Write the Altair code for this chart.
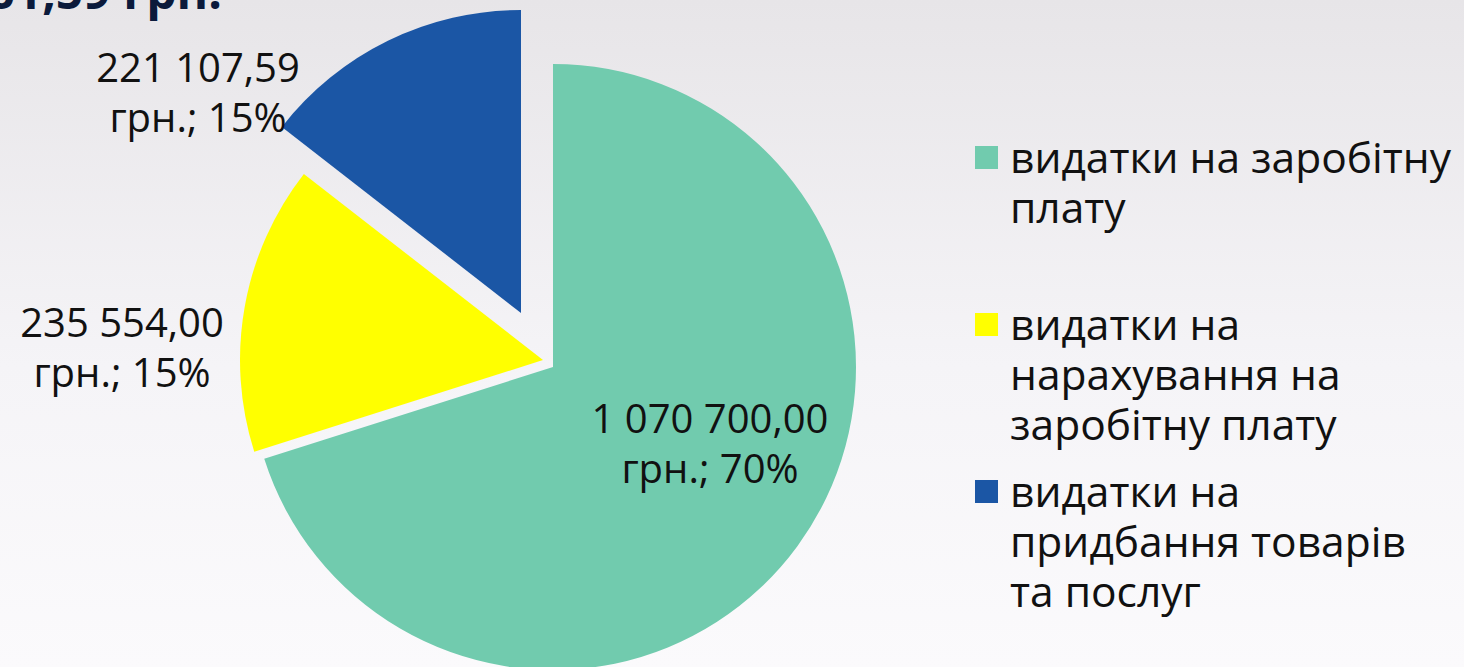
import altair as alt
import pandas as pd

# ---- data ----
categories = [
    "видатки на заробітну плату",
    "видатки на нарахування на заробітну плату",
    "видатки на придбання товарів та послуг",
]
values = [1070700.00, 235554.00, 221107.59]
value_labels = ["1 070 700,00", "235 554,00", "221 107,59"]
percent_labels = ["70%", "15%", "15%"]
legend_labels = [
    "видатки на заробітну\nплату",
    "видатки на\nнарахування на\nзаробітну плату",
    "видатки на\nпридбання товарів\nта послуг",
]
title_text = "1 527 361,59 грн."

# ---- style ----
colors = ["#71cbae", "#ffff00", "#1b56a5"]
W, H = 1464, 667
CX, CY, R = 553, 367, 303
explode = [(0, 0), (-10, -7), (-32, -54)]          # slice offsets (px)
label_offsets = [(157, 66), (-431, -30), (-355, -285)]  # label anchor offsets from centre
FONT = "Open Sans"

df = pd.DataFrame({
    "cat": categories,
    "value": values,
    "order": list(range(len(categories))),
    "label": [f"{v}\nгрн.; {p}" for v, p in zip(value_labels, percent_labels)],
    "legend": legend_labels,
    "ldx": [o[0] for o in label_offsets],
    "ldy": [o[1] for o in label_offsets],
})

color_scale = alt.Scale(domain=categories, range=colors)

# background gradient
bg = alt.Chart(pd.DataFrame({"a": [0]})).mark_rect(
    color=alt.Gradient(
        gradient="linear", x1=0, x2=0, y1=0, y2=1,
        stops=[alt.GradientStop(offset=0, color="#e7e5e8"),
               alt.GradientStop(offset=0.55, color="#f5f4f7"),
               alt.GradientStop(offset=1, color="#fbfafc")],
    )
).encode(x=alt.value(0), x2=alt.value(W), y=alt.value(0), y2=alt.value(H))

base = (
    alt.Chart(df)
    .transform_joinaggregate(total="sum(value)")
    .transform_window(cum="sum(value)", sort=[alt.SortField("order")], frame=[None, 0])
    .transform_calculate(
        t1="datum.cum / datum.total * 2 * PI",
        t0="(datum.cum - datum.value) / datum.total * 2 * PI",
    )
)

slices = []
for i, c in enumerate(categories):
    slices.append(
        base.transform_filter(alt.datum.cat == c)
        .mark_arc(radius=R, xOffset=explode[i][0], yOffset=explode[i][1])
        .encode(
            theta=alt.Theta("t0:Q", scale=None, stack=None),
            theta2="t1:Q",
            color=alt.Color("cat:N", scale=color_scale, legend=None),
            x=alt.value(CX),
            y=alt.value(CY),
        )
    )

labels = (
    alt.Chart(df)
    .transform_calculate(lx=f"{CX} + datum.ldx", ly=f"{CY} + datum.ldy")
    .mark_text(font=FONT, fontSize=40, color="#111111", align="center",
               baseline="alphabetic", lineBreak="\n", lineHeight=50)
    .encode(x=alt.X("lx:Q", scale=None), y=alt.Y("ly:Q", scale=None), text="label:N")
)

legend_y = alt.Y("cat:N", sort=categories,
                 scale=alt.Scale(type="point", domain=categories, range=[157.5, 491.5], padding=0),
                 axis=None)

leg_sym = alt.Chart(df).mark_square(size=529, opacity=1).encode(
    x=alt.value(986.5), y=legend_y,
    color=alt.Color("cat:N", scale=color_scale, legend=None),
)
leg_txt = alt.Chart(df).mark_text(
    font=FONT, fontSize=42.5, color="#111111", align="left", baseline="alphabetic",
    dy=15.5, lineBreak="\n", lineHeight=50,
).encode(x=alt.value(1010), y=legend_y, text="legend:N")

title = alt.Chart(pd.DataFrame({"t": [title_text]})).mark_text(
    font=FONT, fontSize=48, fontWeight="bold", color="#0b1a3b",
    align="right", baseline="alphabetic",
).encode(x=alt.value(222), y=alt.value(9), text="t:N")

chart = (
    alt.layer(bg, *slices, labels, leg_sym, leg_txt, title)
    .resolve_scale(x="independent", y="independent")
    .properties(width=W, height=H, padding=0,
                autosize=alt.AutoSizeParams(type="none"))
    .configure_view(stroke=None)
    .configure(background="#f3f2f5")
)

chart.save("out.html", embed_options={"renderer": "svg", "actions": False})
